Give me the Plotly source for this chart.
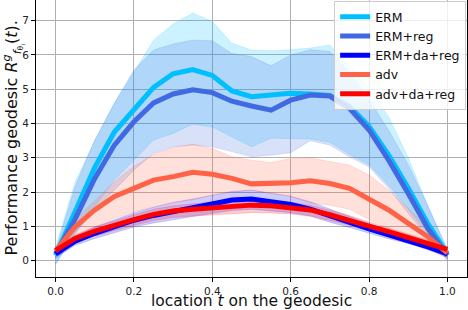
import plotly.graph_objects as go

t = [0.0, 0.05, 0.1, 0.15, 0.2, 0.25, 0.3, 0.35, 0.4, 0.45, 0.5,
     0.55, 0.6, 0.65, 0.7, 0.75, 0.8, 0.85, 0.9, 0.95, 1.0]

erm = [0.15, 1.48, 2.72, 3.75, 4.42, 5.05, 5.45, 5.57, 5.40, 4.95, 4.78,
       4.84, 4.88, 4.86, 4.82, 4.50, 3.92, 3.08, 2.12, 1.08, 0.2]
erm_up = [0.4, 2.3, 3.5, 4.6, 5.5, 6.43, 6.9, 7.22, 6.97, 6.34, 6.14,
          6.12, 6.15, 6.2, 6.29, 5.7, 5.0, 4.2, 3.0, 1.6, 0.35]
erm_lo = [-0.1, 0.8, 1.57, 2.35, 2.93, 3.52, 3.71, 3.98, 3.9, 3.6, 3.32,
          3.57, 3.57, 3.55, 3.45, 3.1, 2.8, 2.2, 1.5, 0.8, 0.05]

erm_reg = [0.2, 1.22, 2.4, 3.37, 4.05, 4.6, 4.86, 4.98, 4.9, 4.65, 4.51,
           4.39, 4.68, 4.83, 4.8, 4.44, 3.81, 2.93, 1.96, 0.94, 0.15]
erm_reg_up = [0.3, 2.16, 3.52, 4.59, 5.56, 6.14, 6.32, 6.43, 6.41, 6.04, 5.95,
              5.68, 6.0, 6.15, 6.1, 5.5, 4.7, 3.8, 2.8, 1.6, 0.3]
erm_reg_lo = [-0.1, 0.8, 1.48, 2.06, 2.64, 3.13, 3.32, 3.37, 3.32, 3.18, 3.03,
              3.08, 3.15, 3.5, 3.37, 3.03, 2.74, 2.11, 1.38, 0.7, 0.0]

erm_da_reg = [0.2, 0.57, 0.8, 1.0, 1.18, 1.32, 1.44, 1.55, 1.65, 1.77, 1.8,
              1.72, 1.64, 1.5, 1.3, 1.13, 0.93, 0.75, 0.58, 0.4, 0.2]
erm_da_reg_up = [0.3, 0.72, 0.98, 1.2, 1.4, 1.56, 1.7, 1.8, 1.9, 2.02, 2.06,
                 1.98, 1.88, 1.72, 1.5, 1.3, 1.08, 0.88, 0.68, 0.48, 0.28]
erm_da_reg_lo = [0.08, 0.45, 0.65, 0.82, 0.98, 1.1, 1.2, 1.3, 1.38, 1.46, 1.5,
                 1.45, 1.4, 1.3, 1.12, 0.97, 0.8, 0.64, 0.5, 0.32, 0.1]

adv = [0.28, 0.99, 1.48, 1.87, 2.11, 2.35, 2.45, 2.58, 2.52, 2.4, 2.24,
       2.25, 2.27, 2.33, 2.25, 2.11, 1.8, 1.48, 1.09, 0.7, 0.22]
adv_up = [0.4, 1.2, 1.75, 2.3, 2.75, 3.1, 3.3, 3.4, 3.27, 3.03, 2.93,
          2.86, 2.98, 3.0, 2.89, 2.79, 2.5, 2.06, 1.53, 0.99, 0.35]
adv_lo = [0.12, 0.65, 0.99, 1.23, 1.43, 1.57, 1.69, 1.77, 1.91, 2.0, 2.05,
          1.96, 1.87, 1.67, 1.62, 1.5, 1.2, 0.94, 0.7, 0.41, 0.05]

adv_da_reg = [0.3, 0.65, 0.86, 1.04, 1.2, 1.35, 1.45, 1.5, 1.54, 1.59, 1.62,
              1.6, 1.55, 1.48, 1.34, 1.19, 1.01, 0.85, 0.68, 0.51, 0.33]
adv_da_reg_up = [0.38, 0.75, 0.98, 1.17, 1.34, 1.5, 1.6, 1.66, 1.7, 1.74, 1.76,
                 1.74, 1.7, 1.62, 1.48, 1.32, 1.13, 0.96, 0.78, 0.6, 0.4]
adv_da_reg_lo = [0.18, 0.52, 0.72, 0.88, 1.03, 1.17, 1.26, 1.3, 1.34, 1.37, 1.4,
                 1.39, 1.36, 1.3, 1.18, 1.04, 0.88, 0.73, 0.57, 0.4, 0.22]

names = ["ERM", "ERM+reg", "ERM+da+reg", "adv", "adv+da+reg"]
colors = ["#00BFFF", "#4169E1", "#0000FF", "#FF6347", "#FF0000"]
rgb = [(0, 191, 255), (65, 105, 225), (0, 0, 255), (255, 99, 71), (255, 0, 0)]
means = [erm, erm_reg, erm_da_reg, adv, adv_da_reg]
ups = [erm_up, erm_reg_up, erm_da_reg_up, adv_up, adv_da_reg_up]
los = [erm_lo, erm_reg_lo, erm_da_reg_lo, adv_lo, adv_da_reg_lo]

xticks = [0.0, 0.2, 0.4, 0.6, 0.8, 1.0]
xticklabels = ["0.0", "0.2", "0.4", "0.6", "0.8", "1.0"]
yticks = [0, 1, 2, 3, 4, 5, 6, 7]

fig = go.Figure()

for i in range(5):
    r, g, b = rgb[i]
    fc = f"rgba({r},{g},{b},0.2)"
    fig.add_trace(go.Scatter(x=t, y=ups[i], mode="lines",
                             line=dict(color=fc, width=0.8),
                             showlegend=False, hoverinfo="skip"))
    fig.add_trace(go.Scatter(x=t, y=los[i], mode="lines", fill="tonexty",
                             fillcolor=fc, line=dict(color=fc, width=0.8),
                             showlegend=False, hoverinfo="skip"))

for i in range(5):
    fig.add_trace(go.Scatter(x=t, y=means[i], mode="lines", name=names[i],
                             line=dict(color=colors[i], width=5)))

axis_common = dict(
    showgrid=True, gridcolor="#b0b0b0", gridwidth=1,
    zeroline=False, showline=True, linecolor="black", linewidth=1,
    ticks="outside", ticklen=4, tickcolor="black", tickwidth=1,
    tickfont=dict(family="DejaVu Sans", size=10.5, color="#222"),
    automargin=False,
)

fig.update_xaxes(range=[-0.05, 1.05], tickvals=xticks, ticktext=xticklabels,
                 mirror=False, **axis_common)
fig.update_yaxes(range=[-0.475, 7.6], tickvals=yticks, mirror=True,
                 **axis_common)

fig.add_annotation(text="location <i>t</i> on the geodesic",
                   xref="paper", yref="paper", x=0.5, y=0,
                   xanchor="center", yanchor="middle", yshift=-24,
                   showarrow=False, borderpad=0,
                   font=dict(family="DejaVu Sans", size=15.5, color="#111"))
fig.add_annotation(text="Performance geodesic <i>R</i><sup><i>g</i></sup><sub><i>f</i><sub>θ<sub>i</sub></sub></sub>(<i>t</i>).",
                   xref="paper", yref="paper", x=0, y=0.5,
                   xanchor="center", yanchor="middle", xshift=-23,
                   textangle=-90, showarrow=False,
                   font=dict(family="DejaVu Sans", size=16, color="#111"))

fig.update_layout(
    width=468, height=310,
    margin=dict(l=36, r=1, t=0, b=33),
    plot_bgcolor="white", paper_bgcolor="white",
    font=dict(family="DejaVu Sans"),
    legend=dict(x=0.998, y=0.996, xanchor="right", yanchor="top",
                traceorder="normal",
                bgcolor="rgba(255,255,255,0.8)", bordercolor="#cccccc",
                borderwidth=1,
                font=dict(family="DejaVu Sans", size=12.5, color="#111"),
                tracegroupgap=0),
)

fig.write_html("out.html", config={"displayModeBar": False})

with open("out.html", "r", encoding="utf-8") as f:
    html = f.read()
html = html.replace("<body>", "<body style=\"margin:0;padding:0;overflow:hidden\">", 1)
with open("out.html", "w", encoding="utf-8") as f:
    f.write(html)
